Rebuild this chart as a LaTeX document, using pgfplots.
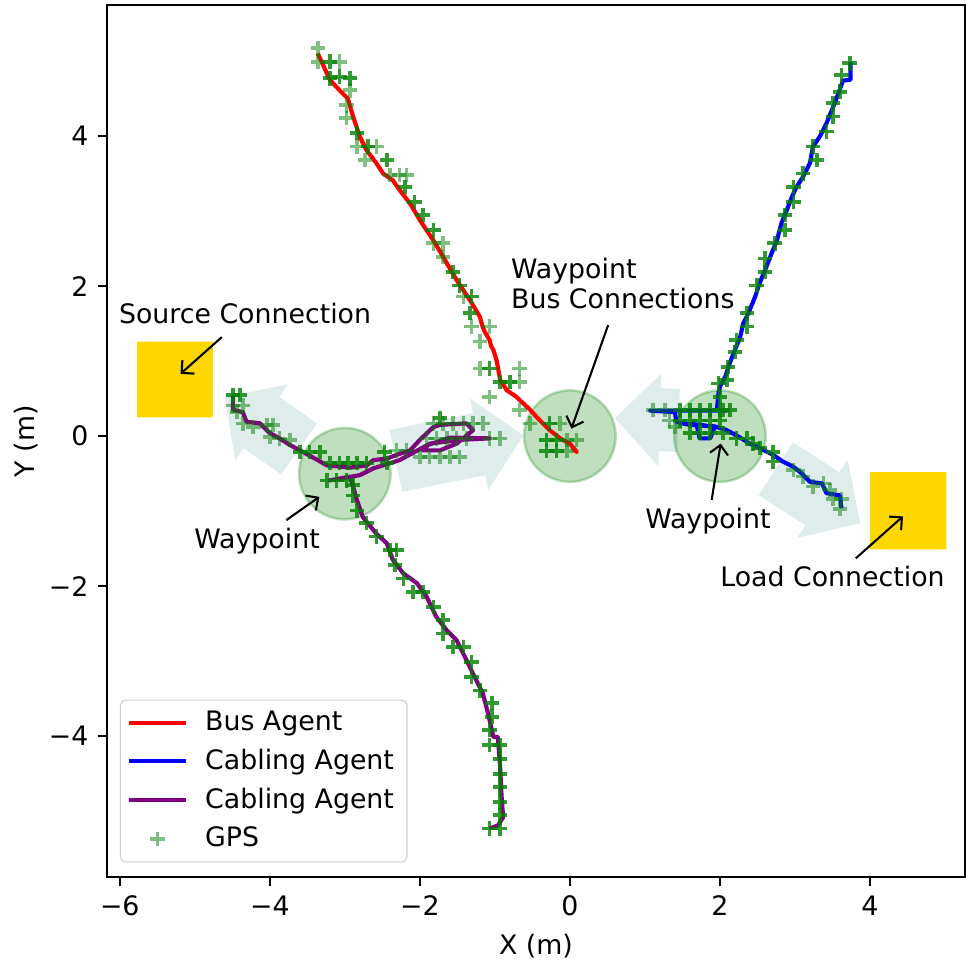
\documentclass[border=0pt]{standalone}
\usepackage{fontspec}
\setmainfont{DejaVu Sans}
\usepackage{pgfplots}
\pgfplotsset{compat=1.18}
\usetikzlibrary{arrows.meta}
\definecolor{mplgreen}{RGB}{0,128,0}
\definecolor{mplpurple}{RGB}{128,0,128}
\definecolor{gold}{RGB}{255,215,0}
\definecolor{cadet}{RGB}{95,158,160}
\newcommand{\fs}{\fontsize{10.3}{12}\selectfont}
\begin{document}
\fs
\begin{tikzpicture}
\begin{axis}[
  name=ax,
  x=28.846pt, y=28.846pt,
  xmin=-6.17, xmax=5.267, ymin=-5.88, ymax=5.747,
  axis line style={line width=0.8pt},
  tick align=outside, xtick pos=left, ytick pos=left,
  major tick length=3.5pt,
  every tick/.style={black, line width=0.8pt},
  xtick={-6,-4,-2,0,2,4}, xticklabels={−6,−4,−2,0,2,4},
  ytick={-4,-2,0,2,4}, yticklabels={−4,−2,0,2,4},
  tick label style={font=\fs},
  xlabel={X (m)}, ylabel={Y (m)},
  ylabel shift=-3pt,
  label style={font=\fs},
  legend image code/.code={\draw[mark repeat=2,mark phase=2] plot coordinates {(0pt,0pt) (11pt,0pt) (22pt,0pt)}; \path (26pt,0pt);},
  legend cell align=left,
  legend style={at={(0.015,0.017)}, anchor=south west, draw=black!20, rounded corners=2pt, fill=white, fill opacity=0.8, text opacity=1, font=\fs, row sep=1.6pt, inner xsep=2.5pt, inner ysep=2.2pt,
    nodes={inner xsep=2.5pt}},
]
\addlegendimage{red, line width=1.6pt}
\addlegendentry{Bus Agent}
\addlegendimage{blue, line width=1.6pt}
\addlegendentry{Cabling Agent}
\addlegendimage{mplpurple, line width=1.6pt}
\addlegendentry{Cabling Agent}
\addlegendimage{only marks, mark=+, mplgreen, opacity=0.5, mark size=2.8pt, mark options={line width=1.4pt}}
\addlegendentry{GPS}

% big arrows
\addplot[draw=none, fill=cadet, fill opacity=0.2, forget plot] coordinates {
 (-3.37,0.17) (-3.87,0.52) (-3.76,0.69) (-4.6,0.52) (-4.46,-0.33) (-4.35,-0.16) (-3.85,-0.51) (-3.37,0.17)};
\addplot[draw=none, fill=cadet, fill opacity=0.2, forget plot] coordinates {
 (-2.403,0.082) (-1.292,0.304) (-1.331,0.501) (-0.62,0.01) (-1.087,-0.717) (-1.126,-0.520) (-2.237,-0.742) (-2.403,0.082)};
\addplot[draw=none, fill=cadet, fill opacity=0.2, forget plot] coordinates {
 (1.435,-0.210) (1.185,-0.201) (1.178,-0.401) (0.6,0.24) (1.2215,0.838) (1.2144,0.6385) (1.465,0.630) (1.435,-0.210)};
\addplot[draw=none, fill=cadet, fill opacity=0.2, forget plot] coordinates {
 (2.9725,-0.082) (3.5935,-0.482) (3.702,-0.314) (3.87,-1.16) (3.030,-1.356) (3.1385,-1.188) (2.5175,-0.788) (2.9725,-0.082)};

% waypoint circles
\draw[mplgreen, fill=mplgreen, fill opacity=0.25, draw opacity=0.25, line width=1pt] (axis cs:-3,-0.5) circle[radius=0.61];
\draw[mplgreen, fill=mplgreen, fill opacity=0.25, draw opacity=0.25, line width=1pt] (axis cs:0,0) circle[radius=0.61];
\draw[mplgreen, fill=mplgreen, fill opacity=0.25, draw opacity=0.25, line width=1pt] (axis cs:2,0) circle[radius=0.61];

% connection squares
\addplot[draw=none, fill=gold, forget plot] coordinates {(-5.77,0.25) (-4.76,0.25) (-4.76,1.26) (-5.77,1.26) (-5.77,0.25)};
\addplot[draw=none, fill=gold, forget plot] coordinates {(4.0,-1.51) (5.02,-1.51) (5.02,-0.48) (4.0,-0.48) (4.0,-1.51)};

% GPS light
\addplot[only marks, mark=+, mark size=2.8pt, mplgreen, opacity=0.5, mark options={line width=1.4pt}, forget plot] coordinates {
(-3.36,5.17) (-3.36,4.99) (-3.07,4.99) (-2.93,4.61) (-2.98,4.41) (-2.98,4.24) (-2.84,3.86) (-2.58,3.86) (-2.73,3.68) (-2.4,3.48) (-2.27,3.48) (-2.18,3.48) (-1.82,2.57) (-1.69,2.57) (-1.69,2.39) (-1.42,1.86) (-1.31,1.46) (-1.07,1.46) (-1.2,1.26) (-1.2,0.90) (-0.67,0.90) (-0.67,0.72) (-1.07,0.52) (-0.67,0.35) (-0.53,0.17) (-0.13,0.17) (-0.04,-0.05) (0.09,-0.05) (-0.04,-0.20)
(1.11,0.35) (1.27,0.35) (1.33,0.21) (1.4,0.12) (2.98,-0.45) (3.11,-0.54) (3.24,-0.67) (3.38,-0.63) (3.47,-0.72) (3.51,-0.84) (3.62,-0.84) (3.6,-0.97)
(-4.49,0.41) (-4.36,0.41) (-4.44,0.32) (-4.36,0.17) (-4.22,0.12) (-4.04,0.15) (-3.96,0.15) (-4.0,-0.01) (-3.87,-0.03) (-3.73,-0.05) (-2.31,-0.19) (-2.18,-0.19) (-2.0,-0.28) (-1.87,-0.28) (-1.73,-0.28) (-1.6,-0.28) (-1.47,-0.28) (-1.91,-0.03) (-1.78,-0.03) (-1.64,-0.03) (-1.51,-0.03) (-1.38,-0.03) (-1.82,0.17) (-1.69,0.17) (-1.56,0.17) (-1.42,0.17) (-1.29,0.17) (-1.16,0.17) (-1.07,-0.03) (-0.93,-0.03)
};
% GPS dark
\addplot[only marks, mark=+, mark size=2.8pt, mplgreen, opacity=0.8, mark options={line width=1.4pt}, forget plot] coordinates {
(-3.2,4.99) (-3.2,4.77) (-3.07,4.79) (-2.93,4.77) (-2.84,4.04) (-2.69,3.86) (-2.44,3.68) (-2.2,3.32) (-2.07,3.12) (-1.96,2.95) (-1.82,2.75) (-1.56,2.19) (-1.47,2.01) (-1.31,1.86) (-1.33,1.64) (-1.07,0.90) (-0.93,0.72) (-0.8,0.72) (-0.27,0.17) (-0.18,-0.05) (-0.31,-0.05) (-0.18,-0.20) (-0.31,-0.20)
(3.73,4.97) (3.62,4.81) (3.6,4.59) (3.51,4.44) (3.51,4.26) (3.42,4.06) (3.24,3.86) (3.29,3.68) (3.11,3.50) (2.98,3.32) (2.98,3.12) (2.87,2.95) (2.87,2.75) (2.73,2.57) (2.6,2.37) (2.6,2.19) (2.49,2.01) (2.36,1.64) (2.36,1.46) (2.22,1.28) (2.2,1.12) (2.11,0.92) (2.09,0.75) (1.98,0.70) (2.0,0.52) (2.04,0.35) (1.47,0.35) (1.6,0.35) (1.73,0.35) (1.87,0.35) (2.0,0.35) (2.13,0.35) (1.47,0.21) (1.6,0.21) (1.73,0.21) (1.87,0.21) (2.0,0.21) (1.6,0.04) (1.73,0.04) (1.87,0.04) (2.04,0.04) (2.22,-0.03) (2.36,-0.03) (2.44,-0.10) (2.53,-0.16) (2.71,-0.21) (2.71,-0.34)
(-4.49,0.55) (-4.4,0.55) (-3.6,-0.21) (-3.47,-0.21) (-3.33,-0.21) (-3.2,-0.36) (-3.07,-0.36) (-2.96,-0.36) (-2.84,-0.36) (-2.71,-0.36) (-2.47,-0.21) (-2.44,-0.36) (-1.73,0.24) (-3.24,-0.59) (-3.11,-0.59) (-2.98,-0.59) (-2.89,-0.65) (-2.89,-0.79) (-2.84,-0.99) (-2.71,-1.16) (-2.58,-1.34) (-2.4,-1.52) (-2.31,-1.52) (-2.33,-1.72) (-2.22,-1.90) (-2.09,-2.08) (-1.96,-2.08) (-1.82,-2.28) (-1.69,-2.45) (-1.69,-2.63) (-1.56,-2.81) (-1.42,-2.81) (-1.31,-3.01) (-1.31,-3.21) (-1.2,-3.39) (-1.04,-3.56) (-1.04,-3.74) (-1.07,-3.92) (-0.93,-4.12) (-1.07,-4.12) (-0.93,-4.30) (-0.93,-4.50) (-0.93,-4.68) (-0.93,-4.88) (-0.93,-5.05) (-1.07,-5.23) (-0.93,-5.23)
};

% Bus agent (red)
\addplot[red, line width=1.6pt, line join=round, forget plot] coordinates {
(-3.36,5.10) (-3.2,4.75) (-3.07,4.61) (-2.96,4.50) (-2.89,4.26) (-2.8,3.99) (-2.71,3.81) (-2.58,3.64) (-2.49,3.50) (-2.36,3.41) (-2.27,3.28) (-2.13,3.10) (-2.0,2.88) (-1.82,2.61) (-1.69,2.39) (-1.51,2.08) (-1.33,1.81) (-1.2,1.59) (-1.17,1.48) (-1.14,1.40) (-1.07,1.28) (-1.05,1.20) (-1.02,1.15) (-0.98,1.02) (-0.96,0.92) (-0.93,0.75) (-0.84,0.61) (-0.75,0.55) (-0.71,0.52) (-0.53,0.35) (-0.4,0.21) (-0.27,0.08) (-0.13,-0.03) (0,-0.1) (0.09,-0.21) (0.03,-0.14) (0.07,-0.2)
};
% Cabling agent (blue)
\addplot[blue, line width=1.6pt, line join=round, forget plot] coordinates {
(3.74,4.99) (3.74,4.75) (3.64,4.74) (3.58,4.57) (3.51,4.39) (3.42,4.17) (3.33,3.99) (3.24,3.86) (3.2,3.64) (3.11,3.46) (3.02,3.32) (2.96,3.19) (2.89,3.01) (2.82,2.84) (2.76,2.61) (2.67,2.39) (2.6,2.21) (2.53,2.04) (2.47,1.86) (2.38,1.64) (2.31,1.50) (2.27,1.32) (2.2,1.15) (2.13,0.97) (2.07,0.79) (2.0,0.66) (1.98,0.57) (1.96,0.35) (2.09,0.34) (1.07,0.34) (1.4,0.32) (1.42,0.19) (1.55,0.16) (1.69,0.15) (1.73,-0.03) (1.87,-0.03) (1.93,0.12) (1.75,0.15) (1.5,0.17) (1.6,0.15) (1.93,0.13) (2.09,0.08) (2.22,0.01) (2.4,-0.1) (2.53,-0.16) (2.71,-0.25) (2.84,-0.34) (2.98,-0.41) (3.07,-0.48) (3.2,-0.61) (3.36,-0.63) (3.42,-0.76) (3.6,-0.79) (3.62,-0.96)
};
% Cabling agent (purple)
\addplot[mplpurple, line width=1.6pt, line join=round, forget plot] coordinates {
(-4.49,0.55) (-4.49,0.35) (-4.36,0.32) (-4.31,0.19) (-4.13,0.17) (-4.0,0.04) (-3.87,-0.03) (-3.73,-0.12) (-3.56,-0.21) (-3.38,-0.31) (-3.24,-0.39) (-2.93,-0.42) (-2.71,-0.39) (-2.62,-0.32) (-2.44,-0.30) (-2.31,-0.25) (-2.13,-0.19) (-2.0,-0.05) (-1.82,0.12) (-1.73,0.15) (-1.38,0.17) (-1.29,0.08) (-1.51,-0.1) (-1.73,-0.19) (-1.96,-0.19) (-1.87,-0.1) (-1.47,-0.05) (-1.07,-0.03) (-1.6,-0.02) (-1.9,-0.12) (-2.27,-0.32) (-2.62,-0.43) (-2.8,-0.52) (-3.2,-0.59) (-2.93,-0.54) (-2.89,-0.67) (-2.84,-0.85) (-2.76,-1.08) (-2.58,-1.30) (-2.44,-1.43) (-2.36,-1.65) (-2.22,-1.83) (-2.04,-1.96) (-1.91,-2.14) (-1.78,-2.41) (-1.64,-2.59) (-1.51,-2.72) (-1.42,-2.9) (-1.29,-3.17) (-1.16,-3.43) (-1.09,-3.70) (-1.02,-4.01) (-0.96,-4.01) (-0.93,-4.41) (-0.91,-4.81) (-0.89,-5.08) (-0.96,-5.19) (-1.07,-5.23)
};

% annotations
\draw[-{Straight Barb[length=3.5pt,width=7pt]}, line width=0.8pt] (axis cs:-4.64,1.32) -- (axis cs:-5.19,0.83);
\node[anchor=base, inner sep=0pt] at (axis cs:-4.33,1.503) {Source Connection};
\draw[-{Straight Barb[length=3.5pt,width=7pt]}, line width=0.8pt] (axis cs:0.51,1.48) -- (axis cs:0.02,0.10);
\node[anchor=base west, inner sep=0pt] at (axis cs:-0.79,2.107) {Waypoint};
\node[anchor=base west, inner sep=0pt] at (axis cs:-0.79,1.703) {Bus Connections};
\draw[-{Straight Barb[length=3.5pt,width=7pt]}, line width=0.8pt] (axis cs:-3.78,-1.12) -- (axis cs:-3.34,-0.81);
\node[anchor=base, inner sep=0pt] at (axis cs:-4.17,-1.50) {Waypoint};
\draw[-{Straight Barb[length=3.5pt,width=7pt]}, line width=0.8pt] (axis cs:1.89,-0.85) -- (axis cs:2.01,-0.10);
\node[anchor=base, inner sep=0pt] at (axis cs:1.84,-1.23) {Waypoint};
\draw[-{Straight Barb[length=3.5pt,width=7pt]}, line width=0.8pt] (axis cs:3.81,-1.63) -- (axis cs:4.44,-1.07);
\node[anchor=base, inner sep=0pt] at (axis cs:3.50,-2.0) {Load Connection};
\end{axis}
\pgfresetboundingbox
\useasboundingbox ([xshift=-41.15pt,yshift=-31.92pt]ax.south west) rectangle ([xshift=0.38pt,yshift=1.92pt]ax.north east);
\end{tikzpicture}
\end{document}
